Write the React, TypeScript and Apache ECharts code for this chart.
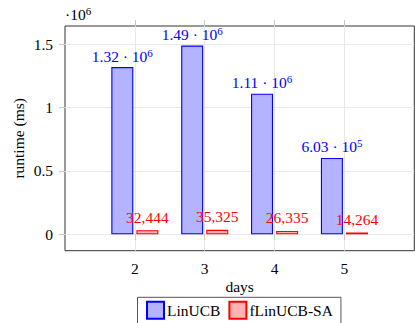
import React, { useEffect, useRef } from "react";
import * as echarts from "echarts";

const days = [2, 3, 4, 5];
const linUCB = [1320000, 1490000, 1110000, 603000];
const fLinUCBSA = [32444, 35325, 26335, 14264];
const yTicks = [0, 500000, 1000000, 1500000];
const yTickLabels = ["0", "0.5", "1", "1.5"];
const seriesNames = ["LinUCB", "fLinUCB-SA"];

const FONT = "'Liberation Serif', 'Times New Roman', serif";
const FS = 15.5;

function sciParts(v: number) {
  const exp = Math.floor(Math.log10(v));
  const m = (v / Math.pow(10, exp)).toFixed(2);
  return { m, exp };
}

export default function App() {
  const ref = useRef<HTMLDivElement>(null);
  useEffect(() => {
    if (!ref.current) return;
    const chart = echarts.init(ref.current, undefined, { renderer: "svg" });
    const gray = "#c8c8c8";
    const gridGray = "#e8e8e8";
    const supRich = (color: string) => ({
      m: { fontFamily: FONT, fontSize: FS, color, lineHeight: 18 },
      s: { fontFamily: FONT, fontSize: 11, color, verticalAlign: "top", lineHeight: 11 },
    });
    chart.setOption({
      animation: false,
      textStyle: { fontFamily: FONT },
      grid: {
        left: 65,
        top: 26,
        right: 0.7,
        bottom: 72.3,
        show: true,
        borderColor: "#333",
        borderWidth: 1,
        backgroundColor: "transparent",
      },
      xAxis: [
        {
          type: "value",
          min: 1,
          max: 6,
          interval: 1,
          name: "days",
          nameLocation: "middle",
          nameGap: 28,
          nameMoveOverlap: false,
          nameTextStyle: { fontFamily: FONT, fontSize: FS, color: "#000" },
          axisLine: { show: false },
          axisTick: { show: true, inside: false, length: 6, lineStyle: { color: gray }, customValues: days },
          axisLabel: { customValues: days, margin: 10, fontFamily: FONT, fontSize: FS, color: "#000" },
          splitLine: { show: true, lineStyle: { color: gridGray, width: 1 } },
        },
        {
          type: "value",
          position: "top",
          min: 1,
          max: 6,
          interval: 1,
          axisLine: { show: false },
          axisTick: { show: true, inside: false, length: 6, lineStyle: { color: gray }, customValues: days },
          axisLabel: { show: false },
          splitLine: { show: false },
        },
      ],
      yAxis: {
        type: "value",
        min: -129500,
        max: 1644500,
        name: "runtime (ms)",
        nameLocation: "middle",
        nameGap: 39,
        nameMoveOverlap: false,
        nameTextStyle: { fontFamily: FONT, fontSize: FS, color: "#000" },
        axisLine: { show: false },
        axisTick: { show: true, inside: false, length: 6, lineStyle: { color: gray }, customValues: yTicks },
        axisLabel: {
          customValues: yTicks,
          margin: 12,
          fontFamily: FONT,
          fontSize: FS,
          color: "#000",
          formatter: (v: number) => yTickLabels[yTicks.indexOf(v)] ?? "",
        },
        splitLine: { show: true, lineStyle: { color: gridGray, width: 1 } },
      },
      legend: {
        left: 137.5,
        top: 297.3,
        orient: "horizontal",
        itemWidth: 17,
        itemHeight: 17,
        itemGap: 8,
        padding: [3.5, 8, 8, 8.5],
        borderColor: "#555",
        borderWidth: 1,
        icon: "rect",
        textStyle: { fontFamily: FONT, fontSize: FS, color: "#000", padding: [0, 0, 0, -2] },
        data: seriesNames,
      },
      graphic: [
        {
          type: "text",
          left: 65,
          top: 5,
          style: {
            text: "{m|·10}{s|6}",
            rich: supRich("#000"),
          },
        },
      ],
      series: [
        {
          name: seriesNames[0],
          type: "bar",
          barWidth: 22,
          barGap: "14%",
          data: days.map((d, i) => [d, linUCB[i]]),
          itemStyle: { color: "#b3b3ff", borderColor: "#0000ff", borderWidth: 1.1 },
          label: {
            show: true,
            position: "top",
            distance: 2,
            formatter: (p: any) => {
              const { m, exp } = sciParts(p.value[1]);
              return `{m|${m} · 10}{s|${exp}}`;
            },
            rich: supRich("#0000ff"),
          },
        },
        {
          name: seriesNames[1],
          type: "bar",
          barWidth: 22,
          barGap: "14%",
          data: days.map((d, i) => [d, fLinUCBSA[i]]),
          itemStyle: { color: "#ffb3b3", borderColor: "#ff0000", borderWidth: 1.1 },
          label: {
            show: true,
            position: "top",
            distance: 5,
            fontFamily: FONT,
            fontSize: FS,
            color: "#ff0000",
            formatter: (p: any) => p.value[1].toLocaleString("en-US"),
          },
        },
      ],
    });
    return () => chart.dispose();
  }, []);
  return (
    <div
      ref={ref}
      style={{ position: "fixed", left: 0, top: 0, width: 415, height: 323, background: "#fff" }}
    />
  );
}
